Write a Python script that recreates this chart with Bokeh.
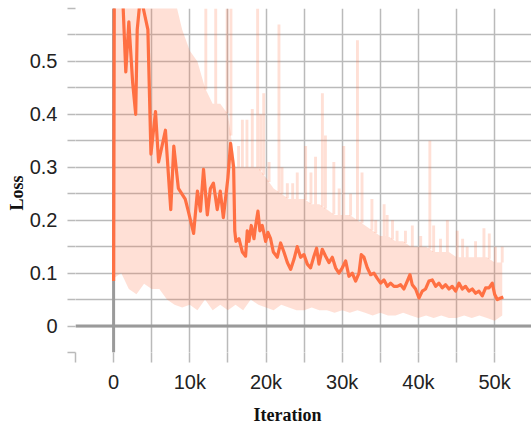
from bokeh.plotting import figure
from bokeh.models import FixedTicker, Span, Title, NumeralTickFormatter
from bokeh.embed import file_html
from bokeh.resources import INLINE
import numpy as np

# ---------------- data ----------------
smooth_iter = [0, 100, 1000, 1200, 1600, 2000, 2500, 2900, 3100, 3500,
               3900, 4500, 4600, 4900, 5500, 5900, 6800, 7500, 7900, 8500,
               9400, 9800, 10500, 11000, 11400, 11800, 12300, 12700, 13100, 13600,
               14000, 14400, 15000, 15350, 15750, 15900, 16050, 16450, 16890, 17320,
               17540, 17760, 18070, 18420, 18640, 18940, 19200, 19510, 19950, 20250,
               20600, 20960, 21480, 21920, 22350, 22800, 23230, 23670, 24100, 24540,
               24980, 25420, 25850, 26290, 26640, 26950, 27380, 27820, 28260, 28700,
               29130, 29570, 30010, 30450, 30880, 31320, 31760, 32200, 32500, 32850,
               33290, 33730, 34160, 34600, 35040, 35480, 35920, 36350, 36790, 37230,
               37660, 38100, 38540, 38890, 39190, 39630, 40070, 40510, 40940, 41380,
               41820, 42260, 42690, 43130, 43570, 44010, 44440, 44880, 45320, 45760,
               46190, 46630, 47070, 47510, 47940, 48380, 48820, 49260, 49690, 50000,
               50350, 50790, 51140]
smooth_loss = [0.085, 0.70, 0.64, 0.62, 0.48, 0.575, 0.46, 0.40, 0.56, 0.62,
               0.60, 0.56, 0.50, 0.325, 0.405, 0.31, 0.37, 0.22, 0.34, 0.26,
               0.24, 0.217, 0.175, 0.255, 0.217, 0.296, 0.21, 0.26, 0.27, 0.22,
               0.255, 0.205, 0.28, 0.345, 0.30, 0.18, 0.16, 0.165, 0.14, 0.132,
               0.18, 0.16, 0.19, 0.165, 0.19, 0.217, 0.18, 0.19, 0.16, 0.177,
               0.165, 0.14, 0.13, 0.157, 0.14, 0.12, 0.107, 0.126, 0.15, 0.13,
               0.135, 0.117, 0.11, 0.132, 0.147, 0.117, 0.145, 0.132, 0.12, 0.13,
               0.11, 0.10, 0.11, 0.123, 0.094, 0.10, 0.085, 0.10, 0.135, 0.13,
               0.11, 0.097, 0.10, 0.09, 0.081, 0.087, 0.075, 0.081, 0.075, 0.075,
               0.078, 0.07, 0.085, 0.097, 0.078, 0.07, 0.053, 0.066, 0.07, 0.085,
               0.087, 0.075, 0.081, 0.072, 0.078, 0.07, 0.075, 0.066, 0.081, 0.07,
               0.075, 0.066, 0.07, 0.062, 0.066, 0.057, 0.072, 0.072, 0.081, 0.06,
               0.05, 0.053, 0.055]

# raw (unsmoothed) series: dense body envelope plus individual spikes
raw_iter = [i * 1000 for i in range(52)]
raw_hi = [0.7, 0.7, 0.7, 0.7, 0.7, 0.7, 0.7, 0.7, 0.62, 0.56,
          0.52, 0.5, 0.45, 0.42, 0.42, 0.4, 0.3, 0.3, 0.3, 0.3,
          0.28, 0.26, 0.25, 0.24, 0.24, 0.24, 0.23, 0.23, 0.22, 0.21,
          0.21, 0.21, 0.2, 0.19, 0.18, 0.17, 0.17, 0.16, 0.16, 0.15,
          0.15, 0.15, 0.14, 0.14, 0.14, 0.13, 0.13, 0.13, 0.13, 0.13,
          0.12, 0.12]
raw_lo = [0.09, 0.1, 0.07, 0.06, 0.08, 0.07, 0.07, 0.05, 0.04, 0.035,
          0.04, 0.03, 0.05, 0.03, 0.04, 0.03, 0.04, 0.03, 0.05, 0.04,
          0.035, 0.03, 0.04, 0.035, 0.03, 0.03, 0.035, 0.03, 0.03, 0.025,
          0.03, 0.025, 0.03, 0.025, 0.02, 0.025, 0.02, 0.02, 0.025, 0.02,
          0.015, 0.02, 0.015, 0.02, 0.015, 0.015, 0.02, 0.015, 0.02, 0.015,
          0.01, 0.02]

spike_iter = [12100, 13400, 14900, 15400, 16400, 16900, 17500, 18200, 18900, 19300,
              19700, 20400, 21700, 22100, 22800, 23500, 24100, 25200, 25900, 26500,
              27400, 27800, 28900, 29600, 30200, 31100, 32000, 32600, 33900, 34400,
              35500, 35900, 36600, 37200, 38300, 39200, 40300, 41500, 42000, 42900,
              43800, 45100, 45800, 46400, 47500, 48600, 49300, 50100, 51000]
spike_top = [0.7, 0.7, 0.7, 0.7, 0.34, 0.39, 0.39, 0.41, 0.7, 0.40,
             0.44, 0.31, 0.57, 0.30, 0.27, 0.27, 0.29, 0.34, 0.29, 0.32,
             0.44, 0.36, 0.31, 0.26, 0.34, 0.25, 0.54, 0.29, 0.24, 0.2,
             0.23, 0.21, 0.2, 0.18, 0.18, 0.19, 0.17, 0.35, 0.19, 0.165,
             0.2, 0.18, 0.165, 0.15, 0.16, 0.185, 0.175, 0.15, 0.15]

x_ticks = [0, 10000, 20000, 30000, 40000, 50000]
x_tick_labels = ["0", "10k", "20k", "30k", "40k", "50k"]
x_minor = [-5000, 5000, 15000, 25000, 35000, 45000, 55000]
y_ticks = [0, 0.1, 0.2, 0.3, 0.4, 0.5]
y_tick_labels = ["0", "0.1", "0.2", "0.3", "0.4", "0.5"]
y_minor = [-0.05, 0.05, 0.15, 0.25, 0.35, 0.45, 0.55, 0.6]

# ---------------- styling ----------------
ORANGE = "#ff7043"
GRID = "#bababa"
ZERO = "#9a9a9a"

p = figure(frame_width=456, frame_height=344,
           x_range=(-5000, 54840), y_range=(-0.05, 0.6),
           output_backend="svg", toolbar_location=None,
           min_border_left=75, min_border_right=0, min_border_top=8,
           min_border_bottom=75)
p.outline_line_color = None
p.background_fill_color = "white"
p.border_fill_color = "white"

# axes
xt = FixedTicker(ticks=x_ticks, minor_ticks=x_minor)
yt = FixedTicker(ticks=y_ticks, minor_ticks=y_minor)
p.xaxis.ticker = xt
p.yaxis.ticker = yt
p.xaxis.formatter = NumeralTickFormatter(format="0a")
p.yaxis.formatter = NumeralTickFormatter(format="0.[0]")
p.xaxis.major_label_overrides = {t: l for t, l in zip(x_ticks, x_tick_labels)}
p.yaxis.major_label_overrides = {t: l for t, l in zip(y_ticks, y_tick_labels)}

for ax in (p.xaxis, p.yaxis):
    ax.axis_line_color = None
    ax.major_tick_line_color = GRID
    ax.minor_tick_line_color = GRID
    ax.major_tick_line_width = 1.5
    ax.minor_tick_line_width = 1.5
    ax.major_tick_in = 0
    ax.minor_tick_in = 0
    ax.major_label_text_font = "Liberation Sans"
    ax.major_label_text_font_size = "20px"
    ax.major_label_text_color = "#222222"
p.xaxis.major_tick_out = 10
p.xaxis.minor_tick_out = 10
p.xaxis.major_label_standoff = 8
p.yaxis.major_tick_out = 8
p.yaxis.minor_tick_out = 8
p.yaxis.major_label_standoff = 10

for g in (p.xgrid, p.ygrid):
    g.grid_line_color = GRID
    g.grid_line_width = 1.5
    g.minor_grid_line_color = GRID
    g.minor_grid_line_width = 1.5
p.xgrid.ticker = xt
p.ygrid.ticker = yt

# zero lines
p.add_layout(Span(location=0, dimension="width", line_color=ZERO,
                  line_width=3, level="underlay"))
p.add_layout(Span(location=0, dimension="height", line_color=ZERO,
                  line_width=3, level="underlay"))

# raw (light) data
p.varea(x=raw_iter, y1=raw_lo, y2=raw_hi, fill_color=ORANGE, fill_alpha=0.22)
spike_base = np.interp(spike_iter, raw_iter, raw_hi)
spike_base = np.minimum(spike_base, spike_top)
p.vbar(x=spike_iter, width=380, bottom=spike_base, top=spike_top,
       fill_color=ORANGE, fill_alpha=0.22, line_color=None)

# smoothed line
p.line(smooth_iter, smooth_loss, line_color=ORANGE, line_width=3.2,
       line_join="round")

# axis titles
p.add_layout(Title(text="Iteration", align="left", offset=178,
                   text_font="Liberation Serif", text_font_style="bold",
                   text_font_size="18px", text_color="#111111", standoff=14), "below")
p.add_layout(Title(text="Loss", align="left", offset=142,
                   text_font="Liberation Serif", text_font_style="bold",
                   text_font_size="18px", text_color="#111111", standoff=0), "left")

open("out.html", "w").write(file_html(p, INLINE))
